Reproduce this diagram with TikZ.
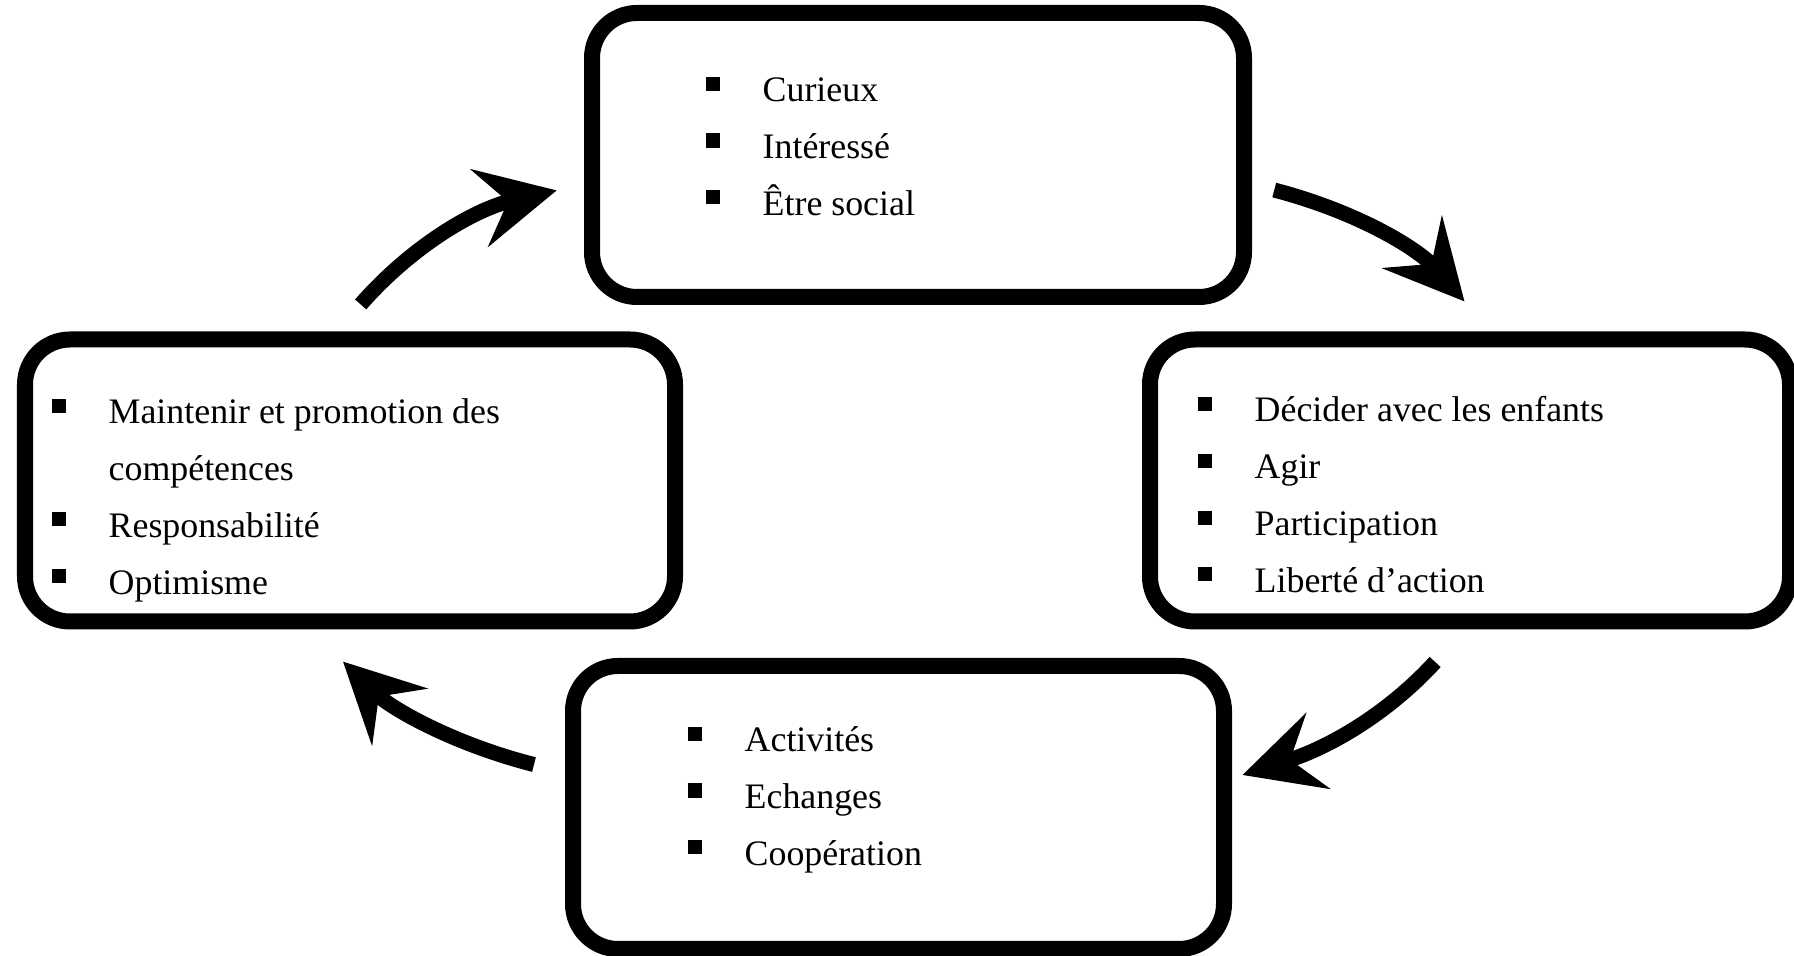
\documentclass[tikz,border=0pt]{standalone}
\usepackage{fontspec}
\setmainfont{Liberation Serif}
\usetikzlibrary{arrows.meta}
\newcommand{\sqbul}{\makebox[0.57cm][l]{\rule[3.1pt]{4.2pt}{4pt}}}

\begin{document}
\begin{tikzpicture}[
  box/.style={draw,line width=0.16cm,rounded corners=0.45cm,inner sep=0pt,minimum width=6.5cm,minimum height=2.82cm},
  lst/.style={anchor=north west,inner sep=0pt,align=left,font=\fontsize{10.2}{16.16}\selectfont},
  cyc/.style={line width=0.15cm,-{Stealth[length=0.79cm,width=0.79cm,inset=0.29cm]}}]
\useasboundingbox (0,0) rectangle (17.94,-9.56);
\node (curieux) at (9.18,-1.55) [box,minimum width=6.52cm,minimum height=2.84cm] {};
\node (agir) at (14.70,-4.805) [box,minimum width=6.40cm] {};
\node (echanges) at (8.985,-8.075) [box,minimum width=6.51cm,minimum height=2.83cm] {};
\node (optimisme) at (3.50,-4.805) [box] {};
\node (curieuxlist) at (7.05,-0.76) [lst] {\sqbul Curieux\\ \sqbul Intéressé\\ \sqbul Être social};
\node (agirlist) at (11.97,-3.96) [lst] {\sqbul Décider avec les enfants\\ \sqbul Agir\\ \sqbul Participation\\ \sqbul Liberté d’action};
\node (echangeslist) at (6.87,-7.26) [lst] {\sqbul Activités\\ \sqbul Echanges\\ \sqbul Coopération};
\node (optimismelist) at (0.51,-3.98) [lst] {\sqbul Maintenir et promotion des\\ \hspace*{0.57cm}compétences\\ \sqbul Responsabilité\\ \sqbul Optimisme};
% the cycle
\draw[cyc,shorten <=0.36cm,shorten >=0.28cm] (optimisme.95) to[bend left=18] (curieux.185);
\draw[cyc,shorten <=0.23cm,shorten >=0.40cm] (curieux.355) to[bend left=17] (agir.82.5);
\draw[cyc,shorten <=0.44cm,shorten >=0.11cm] (agir.268) to[bend left=15] (echanges.5);
\draw[cyc,shorten <=0.32cm,shorten >=0.46cm] (echanges.174) to[bend left=15] (optimisme.255);
\end{tikzpicture}
\end{document}
